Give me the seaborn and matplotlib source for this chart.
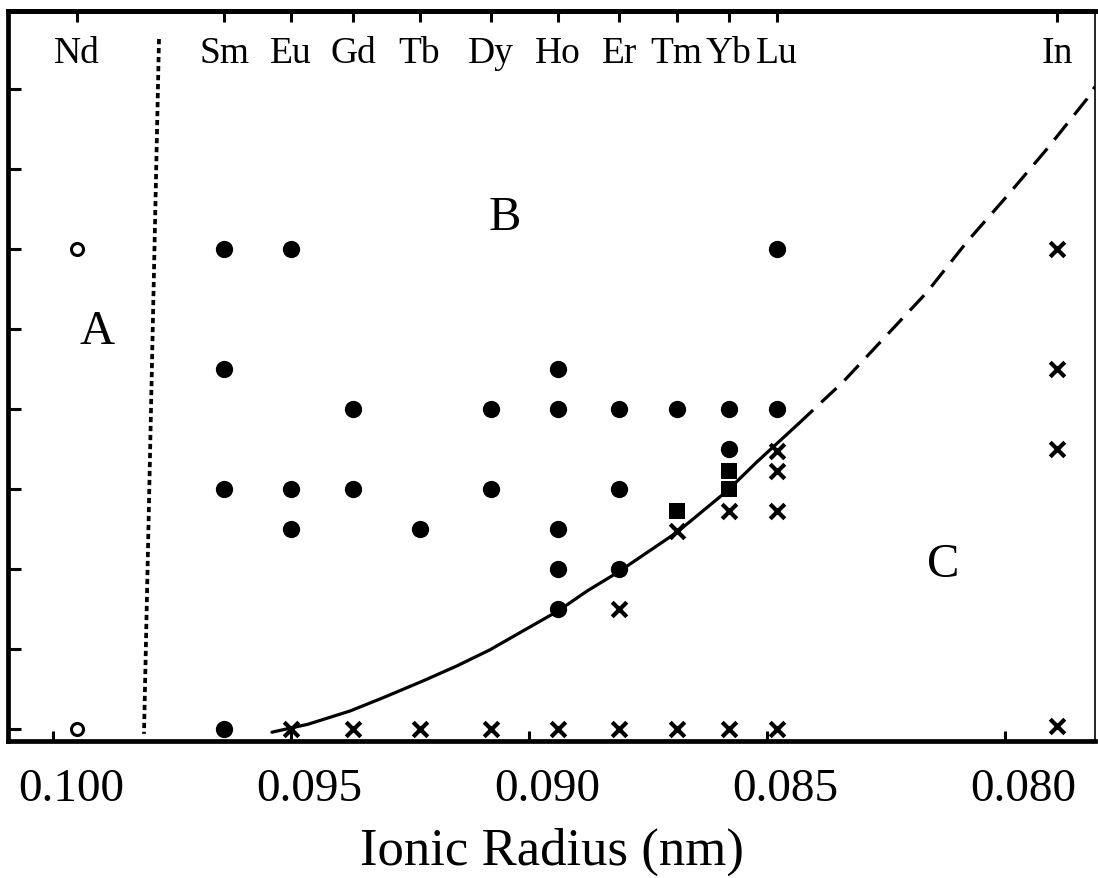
import numpy as np
import pandas as pd
import matplotlib
matplotlib.use("Agg")
import matplotlib.pyplot as plt
import matplotlib.transforms as mtransforms
import seaborn as sns

# ---------------- data ----------------
elements = ["Nd", "Sm", "Eu", "Gd", "Tb", "Dy", "Ho", "Er", "Tm", "Yb", "Lu", "In"]
element_radius = [0.0995, 0.0964, 0.0950, 0.0937, 0.0923, 0.0908,
                  0.0894, 0.0881, 0.0869, 0.0858, 0.0848, 0.0789]

open_el = ["Nd", "Nd"]
open_y = [6, 0]

filled_el = (["Sm"] * 4 + ["Eu"] * 3 + ["Gd"] * 2 + ["Tb"] + ["Dy"] * 2 +
             ["Ho"] * 5 + ["Er"] * 3 + ["Tm"] + ["Yb"] * 2 + ["Lu"] * 2)
filled_y = [6, 4.5, 3, 0,
            6, 3, 2.5,
            4, 3,
            2.5,
            4, 3,
            4.5, 4, 2.5, 2, 1.5,
            4, 3, 2,
            4,
            4, 3.5,
            6, 4]

square_el = ["Tm", "Yb", "Yb"]
square_y = [2.72, 3.22, 3.0]

cross_el = (["Eu", "Gd", "Tb", "Dy", "Ho"] + ["Er"] * 2 + ["Tm"] * 2 + ["Yb"] * 2 +
            ["Lu"] * 4 + ["In"] * 4)
cross_y = [0, 0, 0, 0, 0,
           1.5, 0,
           2.47, 0,
           2.73, 0,
           3.48, 3.22, 2.73, 0,
           6, 4.5, 3.5, 0.04]

# boundary B/C (solid part, then dashed extrapolation)
bc_solid_x = [0.09540, 0.09464, 0.09376, 0.09307, 0.09223, 0.09151, 0.09082,
              0.09013, 0.08939, 0.08878, 0.08813, 0.08689, 0.08584, 0.08521, 0.08435]
bc_solid_y = [-0.04, 0.06, 0.225, 0.39, 0.60, 0.79, 0.99,
              1.225, 1.475, 1.725, 1.96, 2.46, 2.975, 3.34, 3.81]
bc_dash_x = [0.08435, 0.08340, 0.08256, 0.08164, 0.08080, 0.07996, 0.07912, 0.07828, 0.07811]
bc_dash_y = [3.81, 4.34, 4.875, 5.46, 6.09, 6.66, 7.25, 7.875, 8.03]

# boundary A/B (dotted)
ab_x = [0.097773, 0.098088]
ab_y = [8.625, -0.06]

xtick_vals = [0.100, 0.095, 0.090, 0.085, 0.080]
xtick_labels = ["0.100", "0.095", "0.090", "0.085", "0.080"]
ytick_vals = [0, 1, 2, 3, 4, 5, 6, 7, 8]

region_labels = ["A", "B", "C"]
region_x = [0.09908, 0.09050, 0.08130]
region_y = [4.975, 6.4, 2.06]

xlabel = "Ionic Radius (nm)"

# ---------------- plot ----------------
sns.set_style("white")
plt.rcParams["font.family"] = ["Liberation Serif", "DejaVu Serif"]
plt.rcParams["text.color"] = "black"
plt.rcParams["axes.labelcolor"] = "black"
plt.rcParams["xtick.color"] = "black"
plt.rcParams["ytick.color"] = "black"
plt.rcParams["axes.edgecolor"] = "black"

rad = dict(zip(elements, element_radius))

fig = plt.figure(figsize=(10.98, 8.79), dpi=100)
W, H = 1098, 879
ax = fig.add_axes([8 / W, 1 - 742 / H, (1095 - 8) / W, (742 - 12) / H])

# boundaries
sns.lineplot(x=bc_solid_x, y=bc_solid_y, sort=False, estimator=None,
             color="black", linewidth=2.3, ax=ax)
sns.lineplot(x=bc_dash_x, y=bc_dash_y, sort=False, estimator=None,
             color="black", linewidth=2.3, linestyle=(0, (6.5, 3.5)), ax=ax)
sns.lineplot(x=ab_x, y=ab_y, sort=False, estimator=None,
             color="black", linewidth=2.7, linestyle=(0, (1.4, 1.0)), ax=ax)

# points
sns.scatterplot(x=[rad[e] for e in filled_el], y=filled_y, marker="o", s=155,
                color="black", edgecolor="black", linewidth=0, ax=ax, zorder=3)
sns.scatterplot(x=[rad[e] for e in open_el], y=open_y, marker="o", s=75,
                facecolor="white", edgecolor="black", linewidth=2.2, ax=ax, zorder=3)
sns.scatterplot(x=[rad[e] for e in square_el], y=square_y, marker="s", s=135,
                color="black", edgecolor="black", linewidth=0, ax=ax, zorder=3)
sns.scatterplot(x=[rad[e] for e in cross_el], y=cross_y, marker="x", s=110,
                color="black", linewidth=3.0, ax=ax, zorder=3)

ax.set_xlim(0.100945, 0.07811)
ax.set_ylim(-0.15, 8.975)

# spines
for side in ["left", "top", "bottom"]:
    ax.spines[side].set_linewidth(3.4)
    ax.spines[side].set_color("black")
ax.spines["right"].set_linewidth(1.2)
ax.spines["right"].set_color("black")

ax.set_yticks(ytick_vals)
ax.tick_params(axis="y", direction="in", length=9, width=2.2, labelleft=False,
               left=True, right=False, color="black")
ax.set_xticks(xtick_vals)
ax.set_xticklabels(xtick_labels)
ax.tick_params(axis="x", direction="in", length=7, width=2.2, labelsize=34,
               pad=19, bottom=True, top=False, color="black", labelcolor="black")
off = mtransforms.ScaledTranslation(18 / 100, 0, fig.dpi_scale_trans)
for lab in ax.get_xticklabels():
    lab.set_transform(lab.get_transform() + off)

ax.set_xlabel(xlabel, fontsize=38, labelpad=12, color="black")
ax.set_ylabel("")

# top axis with element ticks
top = ax.secondary_xaxis("top")
top.set_xticks(element_radius)
top.tick_params(axis="x", direction="in", length=8, width=2.2, labeltop=False,
                color="black")
top.spines["top"].set_linewidth(3.4)
top.spines["top"].set_color("black")
tr = mtransforms.blended_transform_factory(ax.transData, ax.transAxes)
for e, r in zip(elements, element_radius):
    ax.text(r, (742 - 54) / 730, e, transform=tr, ha="center", va="center",
            fontsize=27, color="black")

for lab, x, y in zip(region_labels, region_x, region_y):
    ax.text(x, y, lab, ha="center", va="center", fontsize=35, color="black")

fig.savefig("out.png", dpi=100)
